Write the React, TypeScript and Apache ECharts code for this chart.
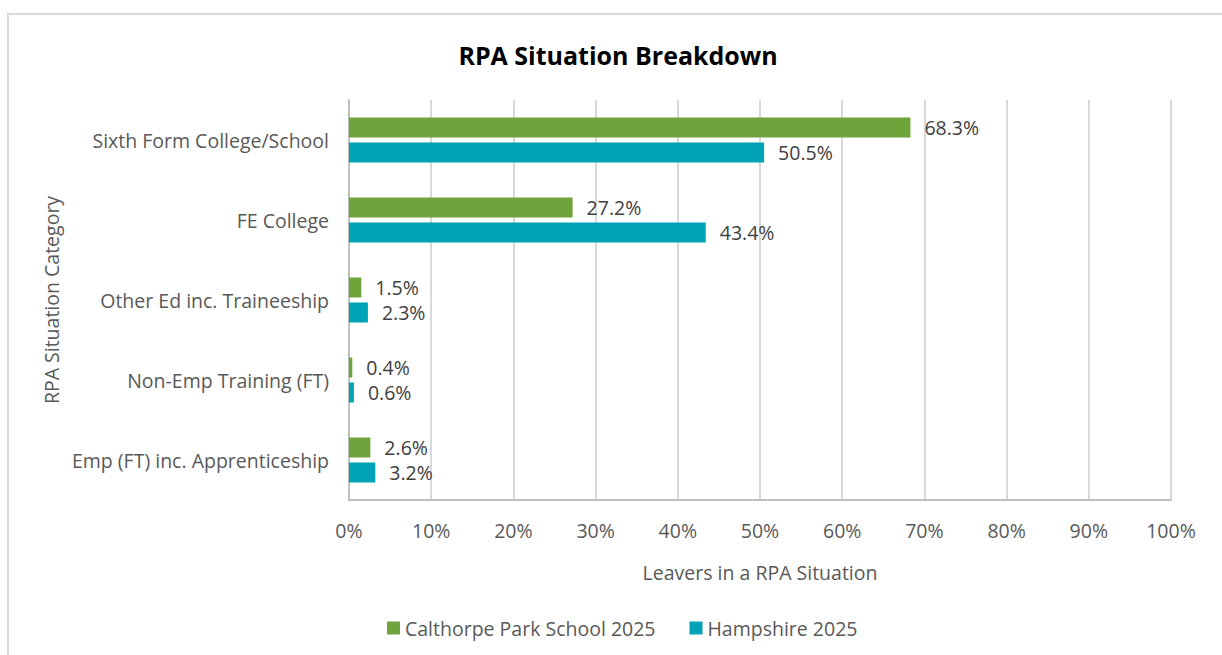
import React, { useEffect, useRef } from "react";
import * as echarts from "echarts";

const categories = [
  "Sixth Form College/School",
  "FE College",
  "Other Ed inc. Traineeship",
  "Non-Emp Training (FT)",
  "Emp (FT) inc. Apprenticeship",
];
const schoolName = "Calthorpe Park School 2025";
const schoolValues = [68.3, 27.2, 1.5, 0.4, 2.6];
const countyName = "Hampshire 2025";
const countyValues = [50.5, 43.4, 2.3, 0.6, 3.2];

const FONT = "'Open Sans', 'Noto Sans', sans-serif";
const TEXT = "#595959";
const FS = 19.5;

export default function App() {
  const ref = useRef<HTMLDivElement>(null);
  useEffect(() => {
    const chart = echarts.init(ref.current!, null, { renderer: "svg" });
    const label = {
      show: true,
      position: "right",
      distance: 14,
      formatter: (p: any) => p.value.toFixed(1) + "%",
      color: "#404040",
      fontSize: FS,
      fontFamily: FONT,
    };
    chart.setOption({
      animation: false,
      backgroundColor: "#ffffff",
      textStyle: { fontFamily: FONT },
      graphic: [
        {
          type: "rect",
          shape: { x: 8, y: 14, width: 1240, height: 680 },
          style: { fill: "none", stroke: "#d9d9d9", lineWidth: 2 },
          silent: true,
        },
      ],
      title: {
        text: "RPA Situation Breakdown",
        left: 613,
        textAlign: "center",
        top: 37,
        textStyle: { fontFamily: FONT, fontSize: 25, fontWeight: "bold", color: "#000000" },
      },
      legend: {
        bottom: 12,
        left: 382,
        itemWidth: 13,
        itemHeight: 13,
        itemGap: 34,
        icon: "rect",
        textStyle: { fontFamily: FONT, fontSize: FS, color: TEXT },
        data: [schoolName, countyName],
      },
      grid: { left: 349, right: 51, top: 100, bottom: 155 },
      xAxis: {
        type: "value",
        min: 0,
        max: 100,
        interval: 10,
        name: "Leavers in a RPA Situation",
        nameLocation: "middle",
        nameGap: 62,
        nameTextStyle: { fontFamily: FONT, fontSize: FS, color: TEXT },
        axisLabel: { formatter: "{value}%", fontFamily: FONT, fontSize: FS, color: TEXT, margin: 20 },
        axisLine: { show: true, lineStyle: { color: "#bfbfbf", width: 2 } },
        axisTick: { show: false },
        splitLine: { show: true, lineStyle: { color: "#d9d9d9", width: 2 } },
      },
      yAxis: {
        type: "category",
        inverse: true,
        data: categories,
        name: "RPA Situation Category",
        nameLocation: "middle",
        nameGap: 280,
        nameRotate: 90,
        nameTextStyle: { fontFamily: FONT, fontSize: FS, color: TEXT },
        axisLabel: { fontFamily: FONT, fontSize: FS, color: TEXT, margin: 20 },
        axisLine: { show: true, lineStyle: { color: "#bfbfbf", width: 2 } },
        axisTick: { show: false },
      },
      series: [
        {
          name: schoolName,
          type: "bar",
          data: schoolValues,
          barWidth: 20,
          barGap: "25%",
          itemStyle: { color: "#6fa33b" },
          label,
        },
        {
          name: countyName,
          type: "bar",
          data: countyValues,
          barWidth: 20,
          itemStyle: { color: "#00a3b5" },
          label,
        },
      ],
    });
    return () => chart.dispose();
  }, []);
  return (
    <div
      ref={ref}
      style={{ position: "fixed", left: 0, top: 0, width: 1222, height: 655 }}
    />
  );
}
